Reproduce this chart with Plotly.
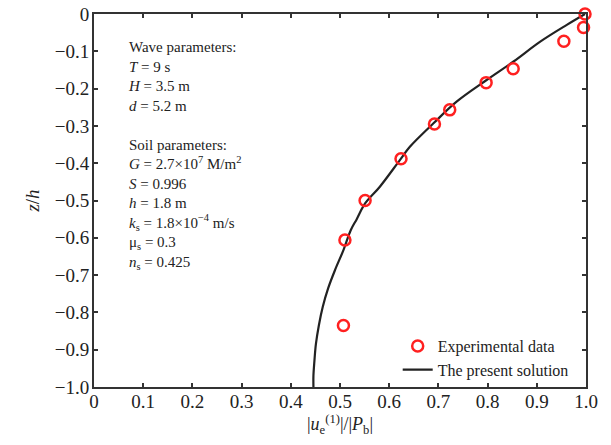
import plotly.graph_objects as go

# Experimental data
exp_x = [0.998, 0.995, 0.955, 0.852, 0.797, 0.723, 0.692, 0.624, 0.551, 0.510, 0.507]
exp_z = [0.0, -0.036, -0.073, -0.147, -0.184, -0.257, -0.295, -0.388, -0.500, -0.606, -0.835]

# Present solution curve
sol_x = [0.998, 0.961, 0.907, 0.852, 0.798, 0.737, 0.690, 0.642, 0.622, 0.581, 0.551, 0.534,
         0.522, 0.507, 0.490, 0.476, 0.465, 0.457, 0.451, 0.448, 0.446, 0.446]
sol_z = [0.0, -0.029, -0.074, -0.128, -0.177, -0.235, -0.293, -0.356, -0.391, -0.463, -0.508,
         -0.550, -0.579, -0.633, -0.686, -0.735, -0.785, -0.835, -0.885, -0.930, -0.970, -1.0]

x_ticks = [0, 0.1, 0.2, 0.3, 0.4, 0.5, 0.6, 0.7, 0.8, 0.9, 1.0]
x_ticktext = ["0", "0.1", "0.2", "0.3", "0.4", "0.5", "0.6", "0.7", "0.8", "0.9", "1.0"]
y_ticks = [0, -0.1, -0.2, -0.3, -0.4, -0.5, -0.6, -0.7, -0.8, -0.9, -1.0]
y_ticktext = ["0", "\u22120.1", "\u22120.2", "\u22120.3", "\u22120.4", "\u22120.5",
              "\u22120.6", "\u22120.7", "\u22120.8", "\u22120.9", "\u22121.0"]

info_lines = [
    "Wave parameters:",
    "<i>T</i> = 9 s",
    "<i>H</i> = 3.5 m",
    "<i>d</i> = 5.2 m",
    "",
    "Soil parameters:",
    "<i>G</i> = 2.7\u00d710<sup>7</sup> M/m<sup>2</sup>",
    "<i>S</i> = 0.996",
    "<i>h</i> = 1.8 m",
    "<i>k</i><sub>s</sub> = 1.8\u00d710<sup>\u22124</sup> m/s",
    "\u03bc<sub>s</sub> = 0.3",
    "<i>n</i><sub>s</sub> = 0.425",
]

FONT = "Liberation Serif"
AX = "#333333"

fig = go.Figure()
fig.add_trace(go.Scatter(
    x=sol_x, y=sol_z, mode="lines", name="The present solution",
    line=dict(color="#222222", width=2.2, shape="spline", smoothing=1.0),
    cliponaxis=False, legendrank=2,
))
fig.add_trace(go.Scatter(
    x=exp_x, y=exp_z, mode="markers", name="Experimental data",
    marker=dict(symbol="circle-open", size=11, color="#ff2020", line=dict(width=2.5, color="#ff2020")),
    cliponaxis=False, legendrank=1,
))

axis_common = dict(
    showgrid=False, zeroline=False, showline=True, linecolor=AX, linewidth=2,
    mirror="ticks", ticks="inside", ticklen=4, tickwidth=1.5, tickcolor=AX,
    tickfont=dict(family=FONT, size=19, color="#222"), automargin=False,
)
fig.update_xaxes(range=[0, 1.0], tickvals=x_ticks, ticktext=x_ticktext, ticklabelstandoff=-4,
                 title=dict(text="|<i>u</i><sub>e</sub><sup>(1)</sup>|/|<i>P</i><sub>b</sub>|",
                            font=dict(family=FONT, size=18, color="#222"), standoff=0),
                 **axis_common)
fig.update_yaxes(range=[-1.0, 0], tickvals=y_ticks, ticktext=y_ticktext, ticklabelstandoff=-1,
                 title=dict(text="<i>z</i>/<i>h</i>", font=dict(family=FONT, size=19, color="#222"),
                            standoff=10),
                 **axis_common)

fig.add_annotation(
    xref="paper", yref="paper", x=0.065, y=0.938, xanchor="left", yanchor="top",
    align="left", showarrow=False, text="<br>".join(info_lines),
    font=dict(family=FONT, size=15, color="#222"),
)

fig.update_layout(
    width=611, height=445,
    margin=dict(l=94, r=25, t=14, b=58),
    paper_bgcolor="white", plot_bgcolor="white",
    font=dict(family=FONT, color="#222"),
    legend=dict(x=0.975, xanchor="right", y=0.0, yanchor="bottom",
                font=dict(family=FONT, size=16, color="#222"),
                bgcolor="rgba(0,0,0,0)", tracegroupgap=0),
)

fig.write_html("out.html")
